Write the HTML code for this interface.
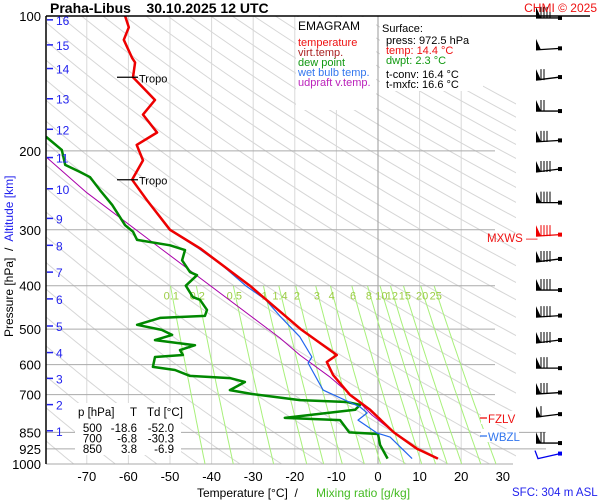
<!DOCTYPE html>
<html><head><meta charset="utf-8"><style>
html,body{margin:0;padding:0;background:#fff;}
svg{display:block;font-family:"Liberation Sans",sans-serif;}
.pre{white-space:pre;}
</style></head><body>
<svg id="c" width="600" height="500" viewBox="0 0 600 500"></svg>
<script>
// ---- data ----
const tempP = [100,106,113,124,127,137,154,166,182,194,210,232,258,300,330,400,500,571,592,633,700,757,850,925,972.5];
const tempT = [-60.8,-59.9,-61.1,-59.1,-58.4,-58.9,-53.6,-56.5,-53.1,-58,-56.5,-59.1,-55.5,-50,-42.8,-30.8,-18.6,-9.9,-12.3,-10.8,-6.8,-1.9,3.8,9.4,14.4];
const dewP = [186,199,215,223,229,245,264,293,303,316,325,333,351,373,379,400,424,430,453,467,472,489,502,515,529,543,557,571,577,607,617,636,643,656,684,698,720,727,738,757,789,798,850,857,907,972.5];
const dewT = [-79.8,-76,-75.2,-71.6,-69.2,-66.8,-63.9,-60.8,-58.9,-57.9,-50,-46.4,-47.1,-45.2,-43.5,-46.2,-44.5,-42.8,-41.1,-41.6,-52.4,-57.9,-52,-49.5,-53.6,-44,-47.6,-46.9,-53.6,-54.1,-48.8,-45.2,-35.6,-32,-35.6,-30.3,-18.8,-7.5,-4.3,-5.5,-22.4,-9.1,-6.9,0,0.5,2.3];
const wbP = [100,106,113,124,127,137,154,166,182,194,210,232,258,300,330,360,400,430,467,520,577,595,684,746,769,798,853,871,972.5];
const wbT = [-60.9,-60,-61.2,-59.2,-58.5,-59,-53.8,-56.6,-53.3,-58.1,-56.6,-59.2,-55.6,-50.2,-43.2,-37.5,-31.8,-27,-23.6,-18.8,-15.9,-16.8,-13.2,-4.3,-2.6,-4.8,-0.2,2.9,8.2];
const parP = [207,248,333,523,571,640,731,777,850,925,972.5];
const parT = [-79.6,-70,-51.7,-23.6,-18.8,-11.5,-4.3,-1.5,3.8,9.4,14.4];
const tempTicks = [-70,-60,-50,-40,-30,-20,-10,0,10,20,30];
const pTicks = [100,200,300,400,500,600,700,850,925,1000];
const mixRatios = [0.1,0.2,0.5,1,1.4,2,3,4,6,8,10,12,15,20,25];
const altKm = [16,15,14,13,12,11,10,9,8,7,6,5,4,3,2,1];
const altP = [102,116,131,153,179,207,243,283,325,373,428,492,564,644,737,843];
const windP = [101,119,139,163,191,223,261,310,354,409,470,537,611,698,786,898,972.5];
const windBarbs = [4,0,2,2,3,4,4,4,4,4,4,4,3,3,1,2,0];

// ---- scales ----
const X0=46, Y0=16, Y1=464;
const xT = t => 378 + t*4.16;
const yP = p => Y0 + 448*Math.log10(p/100);
const svg = document.getElementById('c');
const NS='http://www.w3.org/2000/svg';
function mk(tag, attrs, parent){const e=document.createElementNS(NS,tag);for(const k in attrs)e.setAttribute(k,attrs[k]);(parent||svg).appendChild(e);return e;}

const defs=mk('defs',{});
const cp=mk('clipPath',{id:'plot'},defs);
mk('rect',{x:X0,y:Y0,width:470,height:448},cp);
const cpm=mk('clipPath',{id:'plotm'},defs);
mk('rect',{x:X0,y:yP(400),width:470,height:Y1-yP(400)},cpm);

const gAd=mk('g',{'clip-path':'url(#plot)'});


for(let th=170; th<=520; th+=10){
  let d='';
  for(let p=100;p<=1000;p+=10){const T=th*Math.pow(p/1000,0.286)-273.15;d+=(d?'L':'M')+xT(T).toFixed(1)+','+yP(p).toFixed(1);}
  mk('path',{d,fill:'none',stroke:'#d6d6d6','stroke-width':1},gAd);
}
const gIso=mk('g',{});


tempTicks.forEach(t=>{if(t===30)return;mk('line',{x1:xT(t),x2:xT(t),y1:Y0,y2:Y1,stroke:t===0?'#999':'#d8d8d8','stroke-width':1},gIso);});
const gBar=mk('g',{});


pTicks.forEach(p=>{if(p===100)return;const xe=(p===850||p===925)?546:(p===1000?513:495);
  mk('line',{x1:X0,x2:xe,y1:yP(p),y2:yP(p),stroke:'#aaa','stroke-width':1},gBar);});
const gMix=mk('g',{'clip-path':'url(#plotm)'});


function tw(w,p){const es=w*p/(622+w);const l=Math.log(es/6.112);return 243.5*l/(17.67-l);}
mixRatios.forEach(w=>{let d='';for(let p=400;p<=1000;p+=20){d+=(d?'L':'M')+xT(tw(w,p)).toFixed(1)+','+yP(p).toFixed(1);}
  mk('path',{d,fill:'none',stroke:'#a8f07a','stroke-width':1},gMix);});
mixRatios.forEach(w=>{const t=mk('text',{x:xT(tw(w,410)),y:yP(400)+14,'text-anchor':'middle','font-size':11,fill:'#9ccc44'});t.textContent=String(w);
  
  });

function line(P,T,color,w,name){let d='';P.forEach((p,i)=>{d+=(i?'L':'M')+xT(T[i]).toFixed(1)+','+yP(p).toFixed(1);});
  const e=mk('path',{d,fill:'none',stroke:color,'stroke-width':w,'stroke-linejoin':'round','clip-path':'url(#plot)'});
  
  }
line(parP,parT,'#aa00aa',1,'updraft-line');
line(dewP,dewT,'#008800',2.5,'dew-point-line');
line(wbP,wbT,'#2266ee',1.2,'wet-bulb-line');
line(tempP,tempT,'#ee0000',2.5,'temperature-line');

mk('line',{x1:X0,x2:X0,y1:Y0,y2:Y1,stroke:'#000','stroke-width':1.5});
mk('line',{x1:X0,x2:590,y1:Y0,y2:Y0,stroke:'#000','stroke-width':1.5});
pTicks.forEach(p=>{const t=mk('text',{x:41,y:yP(p)+5,'text-anchor':'end','font-size':13,fill:'#000'});t.textContent=p;
  
  });
tempTicks.forEach(v=>{const t=mk('text',{x:xT(v),y:481,'text-anchor':'middle','font-size':13,fill:'#000'});t.textContent=v;
  
  });
altKm.forEach((k,i)=>{const y=yP(altP[i]);mk('line',{x1:47,x2:53,y1:y,y2:y,stroke:'#2222ee','stroke-width':1.5});
  const t=mk('text',{x:56,y:y+5,'font-size':12,fill:'#2222ee'});t.textContent=k;
  
  });

const gW=mk('g',{});


windP.forEach((p,i)=>{const y=yP(p);const n=windBarbs[i];
  if(i===windP.length-1){mk('path',{d:`M535,${y-8}L538,${y}L560,${y-5}`,fill:'none',stroke:'#0000ee','stroke-width':1.3},gW);mk('rect',{x:558,y:y-7,width:4,height:4,fill:'#0000ee'},gW);return;}
  const col = p===310 ? '#ee0000' : '#000';
  mk('line',{x1:536,x2:560,y1:y,y2:y-(i%3)*1.5,stroke:col,'stroke-width':1.3},gW);
  mk('rect',{x:558,y:y-2-(i%3)*1.5,width:4,height:4,fill:col},gW);
  mk('path',{d:`M536,${y}L536,${y-11}L541,${y}Z`,fill:col},gW);
  for(let k=0;k<n;k++){mk('line',{x1:541+k*3,x2:541+k*3,y1:y,y2:y-11,stroke:col,'stroke-width':1},gW);}
});

function txt(x,y,s,o,par){const t=mk('text',Object.assign({x,y,'font-size':12,fill:'#000'},o||{}),par);t.textContent=s;return t;}
let e;
e=txt(50,13,'Praha-Libus    30.10.2025 12 UTC',{'font-size':14,'font-weight':'bold','class':'pre'});

e=txt(597,12,'CHMI © 2025',{'text-anchor':'end',fill:'#ee1111'});

e=txt(197,497,'Temperature [°C]  /  ',{'class':'pre'});

e=txt(316,497,'Mixing ratio [g/kg]',{fill:'#44bb22'});

e=txt(512,496,'SFC: 304 m ASL',{fill:'#2222ee','font-size':11.5});

const yt=mk('text',{x:0,y:0,'font-size':12,transform:'translate(13,337) rotate(-90)','class':'pre'});

const s1=mk('tspan',{fill:'#000'},yt);s1.textContent='Pressure [hPa]  /  ';
const s2=mk('tspan',{fill:'#2222ee'},yt);s2.textContent='Altitude [km]';

[137,232].forEach(p=>{const y=yP(p);mk('line',{x1:117,x2:138,y1:y,y2:y,stroke:'#000','stroke-width':1.2});
  e=txt(139,y+5,'Tropo',{'font-size':11});});

const lg=mk('g',{});
mk('rect',{x:296,y:17,width:80,height:93,fill:'#fff'},lg);
[['EMAGRAM','#000',30,12],['temperature','#ee1111',46,11],['virt.temp.','#aa2222',56,11],['dew point','#119911',66,11],['wet bulb temp.','#3377ee',76,11],['udpraft v.temp.','#bb22bb',86,11]].forEach(a=>{
  e=txt(298,a[2],a[0],{fill:a[1],'font-size':a[3]},lg);});
const sb=mk('g',{});
mk('rect',{x:380,y:17,width:103,height:74,fill:'#fff'},sb);
[['Surface:','#000',382,32],['press: 972.5 hPa','#000',386,44],['temp: 14.4 °C','#ee1111',386,54],['dwpt: 2.3 °C','#119911',386,64],['t-conv: 16.4 °C','#000',386,78],['t-mxfc: 16.6 °C','#000',386,88]].forEach(a=>{
  e=txt(a[2],a[3],a[0],{fill:a[1],'font-size':11},sb);});

const tb=mk('g',{});
mk('rect',{x:75,y:403,width:106,height:52,fill:'#fff'},tb);
txt(78,416,'p [hPa]',{'font-size':11.5},tb);txt(137,416,'T',{'font-size':11.5,'text-anchor':'end'},tb);txt(147,416,'Td [°C]',{'font-size':11.5},tb);
[['500','-18.6','-52.0'],['700','-6.8','-30.3'],['850','3.8','-6.9']].forEach((r,i)=>{const y=432+i*10.5;
  txt(102,y,r[0],{'text-anchor':'end','font-size':11.5},tb);txt(137,y,r[1],{'text-anchor':'end','font-size':11.5},tb);txt(174,y,r[2],{'text-anchor':'end','font-size':11.5},tb);});

function mark(y,label,color,name){mk('rect',{x:481,y:y-7,width:38,height:13,fill:'#fff'});
  mk('line',{x1:480,x2:487,y1:y,y2:y,stroke:color,'stroke-width':1.3});
  e=txt(488,y+5,label,{fill:color,'font-size':11.5});}
mark(418,'FZLV','#ee1111','freezing-level');
mark(436,'WBZL','#3377ee','wet-bulb-zero-level');
e=txt(487,242,'MXWS —',{fill:'#ee1111','font-size':11.5});
</script>
</body></html>
